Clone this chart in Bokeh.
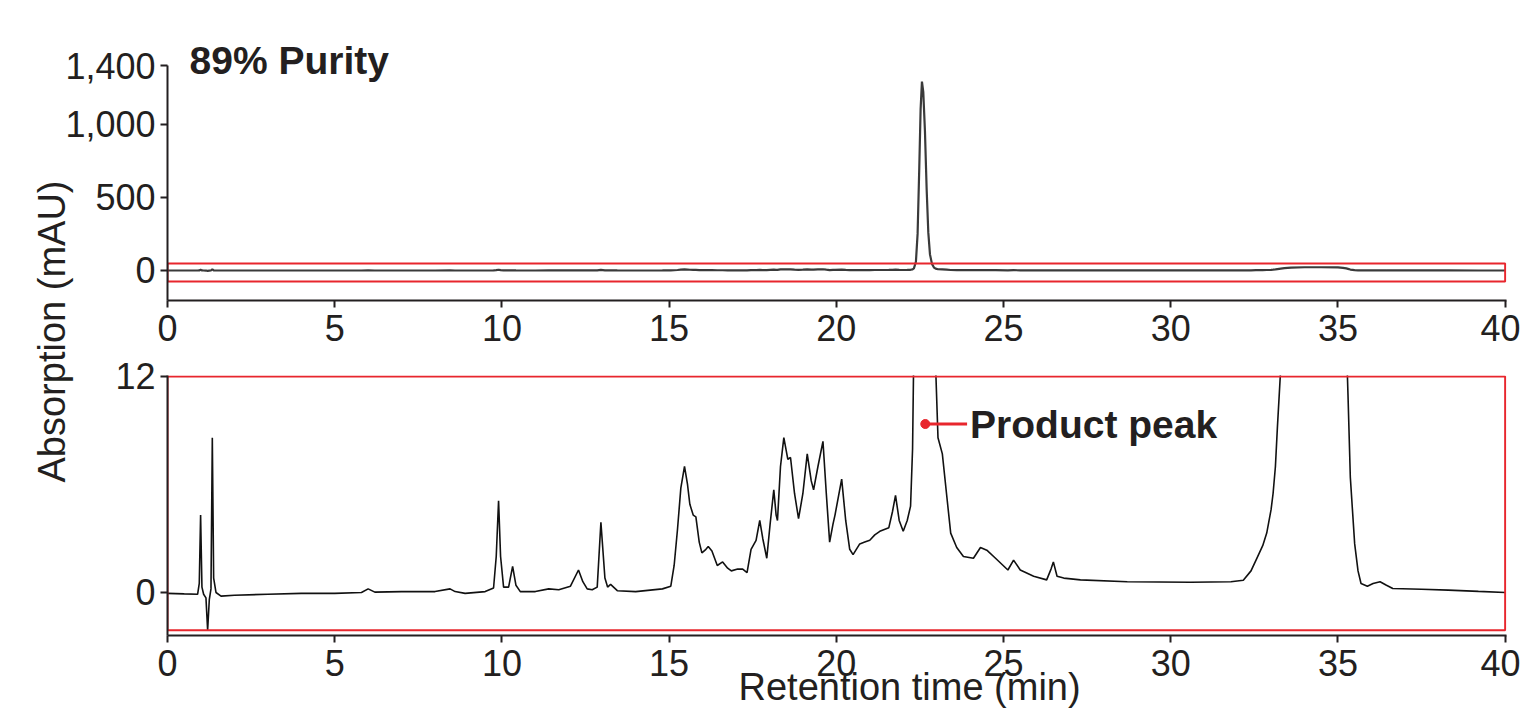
from bokeh.plotting import figure
from bokeh.layouts import column
from bokeh.models import Range1d, FixedTicker, NumeralTickFormatter, Label, Title
from bokeh.embed import file_html
from bokeh.resources import INLINE

# ---------------- data ----------------
time_min = [
    0.00, 0.50, 0.90, 0.95, 0.99, 1.03, 1.08, 1.15, 1.20, 1.25, 1.30, 1.34, 1.38, 1.45, 1.60,
    2.0, 3.0, 4.0, 5.0, 5.8, 6.0, 6.2, 7.0, 8.0, 8.45, 8.6, 8.9, 9.5, 9.75, 9.83, 9.9, 9.96,
    10.05, 10.2, 10.32, 10.42, 10.55, 11.0, 11.4, 11.7, 12.05, 12.29, 12.42, 12.55, 12.7,
    12.85, 12.96, 13.08, 13.16, 13.25, 13.45, 14.0, 14.8, 15.05, 15.15, 15.25, 15.35, 15.46,
    15.55, 15.62, 15.72, 15.8, 15.9, 15.98, 16.1, 16.17, 16.28, 16.44, 16.6, 16.75, 16.86,
    17.05, 17.2, 17.33, 17.45, 17.6, 17.71, 17.8, 17.92, 18.02, 18.13, 18.2, 18.24, 18.33,
    18.43, 18.55, 18.63, 18.75, 18.87, 19.0, 19.13, 19.25, 19.32, 19.45, 19.6, 19.7, 19.8,
    19.9, 19.96, 20.16, 20.28, 20.4, 20.5, 20.7, 20.85, 21.0, 21.15, 21.3, 21.57, 21.68,
    21.77, 21.88, 22.0, 22.12, 22.22, 22.28, 22.32, 22.38, 22.43, 22.48, 22.52, 22.56, 22.6,
    22.65, 22.7, 22.75, 22.8, 22.86, 22.92, 22.97, 23.04, 23.17, 23.3, 23.42, 23.6, 23.8,
    24.1, 24.31, 24.5, 24.76, 25.13, 25.3, 25.5, 25.9, 26.29, 26.42, 26.49, 26.6, 26.8,
    27.3, 28.7, 30.6, 31.8, 32.17, 32.4, 32.55, 32.75, 32.87, 33.0, 33.06, 33.13, 33.19,
    33.29, 33.4, 33.6, 34.0, 34.5, 35.0, 35.15, 35.25, 35.3, 35.37, 35.5, 35.6, 35.69,
    35.88, 36.05, 36.26, 36.45, 36.64, 37.5, 38.3, 39.2, 40.0,
]
absorbance_mau = [
    -0.05, -0.08, -0.1, 0.5, 4.3, 0.3, -0.1, -0.3, -2.1, -0.4, 0.2, 8.6, 0.8, 0.0, -0.2,
    -0.15, -0.1, -0.05, -0.05, 0.0, 0.2, 0.02, 0.05, 0.05, 0.2, 0.05, -0.05, 0.05, 0.25, 2.0, 5.1, 2.0,
    0.3, 0.3, 1.45, 0.4, 0.05, 0.05, 0.2, 0.15, 0.35, 1.25, 0.6, 0.2, 0.15,
    0.3, 3.9, 0.8, 0.3, 0.45, 0.1, 0.05, 0.2, 0.35, 1.5, 3.5, 5.8, 7.0,
    6.0, 4.9, 4.3, 4.2, 2.8, 2.2, 2.4, 2.55, 2.3, 1.5, 1.7, 1.35, 1.2,
    1.3, 1.3, 1.1, 2.4, 2.9, 4.0, 3.0, 1.9, 3.8, 5.7, 4.3, 4.0, 7.0,
    8.6, 7.4, 7.5, 5.5, 4.1, 5.5, 7.7, 6.2, 5.7, 7.0, 8.4, 5.5, 2.8,
    3.8, 4.3, 6.3, 4.0, 2.4, 2.1, 2.7, 2.8, 2.9, 3.2, 3.4, 3.6, 4.5,
    5.4, 4.0, 3.4, 4.0, 4.8, 8.0, 14.0, 60.0, 250.0, 700.0, 1100.0, 1290.0, 1220.0,
    950.0, 560.0, 260.0, 110.0, 45.0, 20.0, 12.5, 8.6, 7.7, 5.4, 3.3, 2.5, 2.0,
    1.9, 2.5, 2.35, 1.9, 1.25, 1.8, 1.25, 0.9, 0.7, 1.3, 1.7, 0.9, 0.8,
    0.7, 0.6, 0.57, 0.6, 0.68, 1.2, 1.8, 2.6, 3.3, 4.6, 5.5, 7.0, 9.2,
    12.5, 16.0, 20.0, 22.0, 22.0, 21.0, 18.0, 14.0, 11.0, 6.4, 2.7, 1.2, 0.5,
    0.35, 0.5, 0.6, 0.4, 0.22, 0.18, 0.13, 0.06, 0.0,
]

x_ticks = [0, 5, 10, 15, 20, 25, 30, 35, 40]
top_y_ticks = [0, 500, 1000, 1400]
bottom_y_ticks = [0, 12]

# zoom window shown in the lower panel (mAU) and its outline in the upper panel
top_window = {"t0": 0, "t1": 40, "lo": -75, "hi": 48}
bottom_window = {"t0": 0, "t1": 40, "lo": -2.1, "hi": 12}
product_pointer = {"t": 22.66, "t_end": 23.91, "level": 9.36, "text_t": 24.0}

INK = "#231f20"
RED = "#e8262d"
FONT = "Liberation Sans"


def style(p):
    p.grid.visible = False
    p.outline_line_color = None
    p.border_fill_color = None
    p.background_fill_color = None
    for ax in p.axis:
        ax.axis_line_width = 2
        ax.axis_line_color = INK
        ax.major_tick_line_width = 2
        ax.major_tick_line_color = INK
        ax.major_tick_in = 0
        ax.major_tick_out = 7
        ax.minor_tick_line_color = None
        ax.major_label_text_font = FONT
        ax.major_label_text_font_size = "36px"
        ax.major_label_text_color = INK
    p.xaxis.major_label_standoff = 7
    p.yaxis.major_label_standoff = 5
    p.xaxis.ticker = FixedTicker(ticks=x_ticks)


# ---------------- top panel ----------------
top = figure(width=1520, height=490, x_range=Range1d(0, 40.04), y_range=Range1d(-205, 1400),
             output_backend="svg", toolbar_location=None,
             min_border_left=167, min_border_right=14, min_border_top=65, min_border_bottom=190)
style(top)
top.yaxis.ticker = FixedTicker(ticks=top_y_ticks)
top.yaxis.formatter = NumeralTickFormatter(format="0,0")

top.line(time_min, absorbance_mau, line_color="#3a3a3a", line_width=2.2)
top.quad(left=[top_window["t0"]], right=[top_window["t1"]],
         bottom=[top_window["lo"]], top=[top_window["hi"]],
         fill_color=None, line_color=RED, line_width=2)

top.add_layout(Title(text="89% Purity", text_font=FONT, text_font_style="bold",
                     text_font_size="39px", text_color=INK, align="left", offset=22,
                     vertical_align="bottom", standoff=-33), "above")
top.add_layout(Title(text="Absorption (mAU)", text_font=FONT, text_font_style="normal",
                     text_font_size="38px", text_color=INK, align="left", offset=-182,
                     vertical_align="bottom", standoff=-20), "left")

# ---------------- bottom panel ----------------
bottom = figure(width=1520, height=364, x_range=Range1d(0, 40.04), y_range=Range1d(-2.39, 12.055),
                output_backend="svg", toolbar_location=None,
                min_border_left=167, min_border_right=14, min_border_top=30, min_border_bottom=74,
                margin=(-145, 0, 0, 0))
style(bottom)
bottom.yaxis.ticker = FixedTicker(ticks=bottom_y_ticks)

bottom.line(time_min, absorbance_mau, line_color="#111111", line_width=1.6)
bottom.quad(left=[bottom_window["t0"]], right=[bottom_window["t1"]],
            bottom=[bottom_window["lo"]], top=[bottom_window["hi"]],
            fill_color=None, line_color=RED, line_width=2)

bottom.segment(x0=[product_pointer["t"]], y0=[product_pointer["level"]],
               x1=[product_pointer["t_end"]], y1=[product_pointer["level"]],
               line_color=RED, line_width=3)
bottom.scatter(x=[product_pointer["t"]], y=[product_pointer["level"]], size=9,
               fill_color=RED, line_color=RED)
bottom.add_layout(Label(x=product_pointer["text_t"], y=product_pointer["level"], text="Product peak",
                        text_font=FONT, text_font_style="bold", text_font_size="39px",
                        text_color=INK, text_baseline="middle", text_align="left"))
bottom.add_layout(Title(text="Retention time (min)", text_font=FONT, text_font_style="normal",
                        text_font_size="38px", text_color=INK, align="left", offset=571,
                        vertical_align="bottom", standoff=-30), "below")

layout = column(top, bottom, spacing=0)
open("out.html", "w").write(file_html(layout, INLINE))
